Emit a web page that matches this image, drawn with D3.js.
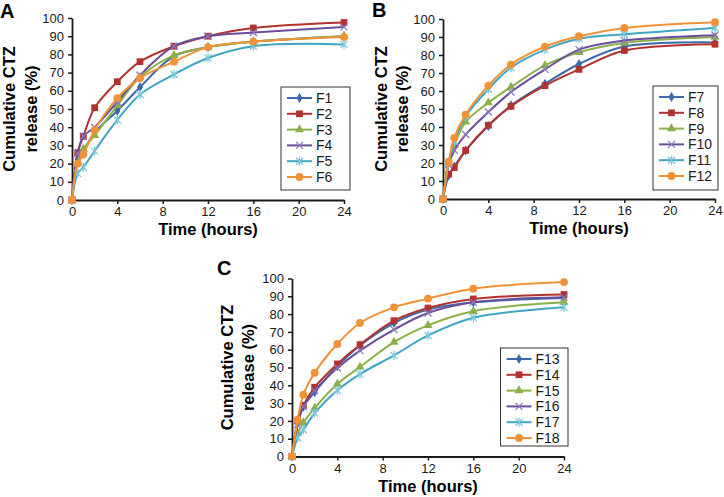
<!DOCTYPE html>
<meta charset="utf-8">
<title>Cumulative CTZ release</title>
<style>
  body { margin: 0; background: #fff; }
  text { font-family: Arial, "Liberation Sans", sans-serif; }
</style>
<body>
<script src="https://cdn.jsdelivr.net/npm/d3@7"></script>
<script>
//==================================================================
// data
var hours = [0, 0.5, 1, 2, 4, 6, 9, 12, 16, 24];
var xTicks = [0, 4, 8, 12, 16, 20, 24];
var yTicks = [0, 10, 20, 30, 40, 50, 60, 70, 80, 90, 100];

var f1  = [0, 22, 27, 37, 49, 62, 79, 84, 87, 90];
var f2  = [0, 26, 35, 50.7, 65, 76, 84.5, 90, 94.5, 97.5];
var f3  = [0, 21, 28, 35.5, 52, 67.5, 79.5, 84, 87, 90];
var f4  = [0, 25.5, 35, 40, 54, 68.5, 84.5, 90, 92, 95];
var f5  = [0, 14.5, 18, 27, 44, 58, 69, 78, 84.5, 85.5];
var f6  = [0, 20, 25, 38.5, 56, 67, 76, 84, 87, 89.5];

var f7  = [0, 13, 18, 27, 40.5, 52, 64, 75, 84.7, 87];
var f8  = [0, 13.8, 17.5, 27, 41, 51.5, 63, 72, 82.5, 86];
var f9  = [0, 20, 30, 42.8, 53.5, 62.2, 74.2, 81.5, 86.7, 90];
var f10 = [0, 19, 27, 35.8, 48.3, 59.4, 72, 83, 88, 91];
var f11 = [0, 20, 32, 46, 61, 73, 83, 89, 91.5, 95];
var f12 = [0, 20.7, 34, 46.9, 63, 74.7, 84.7, 90.4, 95, 98.2];

var f13 = [0, 19, 28, 36.2, 50.7, 62.4, 75, 82.5, 86.6, 89];
var f14 = [0, 20, 28.7, 38.9, 52, 62.8, 76.3, 83.4, 88.5, 91];
var f15 = [0, 13, 19, 27.2, 40.7, 50.3, 64.3, 73.7, 81.6, 86.6];
var f16 = [0, 18, 28, 37, 49.7, 59.5, 71.3, 80.6, 86.6, 89.4];
var f17 = [0, 10.5, 15, 24.4, 37.2, 46.3, 56.8, 68, 78, 83.8];
var f18 = [0, 20.7, 34.7, 47, 63.2, 75, 83.8, 88.7, 94.3, 98];

var namesA = ['F1', 'F2', 'F3', 'F4', 'F5', 'F6'];
var namesB = ['F7', 'F8', 'F9', 'F10', 'F11', 'F12'];
var namesC = ['F13', 'F14', 'F15', 'F16', 'F17', 'F18'];
var valuesA = [f1, f2, f3, f4, f5, f6];
var valuesB = [f7, f8, f9, f10, f11, f12];
var valuesC = [f13, f14, f15, f16, f17, f18];

//==================================================================
var width = 724,
    height = 497;

var color = ['#3b69a9', '#b3312f', '#8bb04a', '#6a4d9a', '#40a5c3', '#f29236'];
var markerKind = ['diamond', 'square', 'triangle', 'cross', 'star', 'circle'];

var svg = d3.select('body').append('svg')
    .attr('width', width)
    .attr('height', height)
    .style('display', 'block');

function marker(sel, kind, col) {
  if (kind == 'cross') {
    sel.append('path').attr('d', 'M-3.5,-3.5L3.5,3.5M-3.5,3.5L3.5,-3.5')
      .style('stroke', '#8a78c0').style('stroke-width', 1.3).style('fill', 'none');
  } else if (kind == 'star') {
    sel.append('path').attr('d', 'M-3.5,-3.5L3.5,3.5M-3.5,3.5L3.5,-3.5M0,-4.5L0,4.5')
      .style('stroke', '#7cc7de').style('stroke-width', 1.3).style('fill', 'none');
  } else {
    var t = {diamond: d3.symbolDiamond, square: d3.symbolSquare,
             triangle: d3.symbolTriangle, circle: d3.symbolCircle}[kind];
    var s = {diamond: 30, square: 46, triangle: 36, circle: 48}[kind];
    sel.append('path').attr('d', d3.symbol(t, s)()).style('fill', col);
  }
}

function drawPanel(p) {
  var x = d3.scaleLinear().domain([0, 24]).range([p.left, p.right]);
  var y = d3.scaleLinear().domain([0, 100]).range([p.bottom, p.top]);
  var g = svg.append('g');

  var ax = g.append('g')
      .attr('transform', 'translate(0,' + p.bottom + ')')
      .call(d3.axisBottom(x).tickValues(xTicks).tickSize(4).tickSizeOuter(0).tickPadding(3));
  var ay = g.append('g')
      .attr('transform', 'translate(' + p.left + ',0)')
      .call(d3.axisLeft(y).tickValues(yTicks).tickSize(4).tickSizeOuter(0).tickPadding(4));
  [ax, ay].forEach(function(a) {
    a.select('.domain').style('stroke', '#1a1a1a').style('stroke-width', 1.8);
    a.selectAll('.tick line').style('stroke', '#1a1a1a').style('stroke-width', 1.5);
    a.selectAll('text').style('font-size', '13px').style('fill', '#1a1a1a')
      .style('font-family', 'Arial, "Liberation Sans", sans-serif');
  });

  var line = d3.line()
      .curve(d3.curveCatmullRom.alpha(0.5))
      .x(function(d, i) { return x(hours[i]); })
      .y(function(d) { return y(d); });

  for (var k = 0; k < p.values.length; k++) {
    g.append('path')
      .attr('d', line(p.values[k]))
      .style('fill', 'none')
      .style('stroke', color[k])
      .style('stroke-width', 2);
    for (var i = 0; i < hours.length; i++) {
      var m = g.append('g').attr('transform', 'translate(' + x(hours[i]) + ',' + y(p.values[k][i]) + ')');
      marker(m, markerKind[k], color[k]);
    }
  }

  // legend
  var lg = g.append('g');
  lg.append('rect')
    .attr('x', p.legend[0]).attr('y', p.legend[1])
    .attr('width', p.legend[2]).attr('height', p.legend[3])
    .style('fill', '#fff').style('stroke', '#333').style('stroke-width', 1);
  for (var k = 0; k < p.names.length; k++) {
    var ly = p.legend[1] + 11 + k * 15.8;
    var lx = p.legend[0] + 6;
    lg.append('line')
      .attr('x1', lx).attr('x2', lx + 25).attr('y1', ly).attr('y2', ly)
      .style('stroke', color[k]).style('stroke-width', 2);
    marker(lg.append('g').attr('transform', 'translate(' + (lx + 12.5) + ',' + ly + ')'), markerKind[k], color[k]);
    lg.append('text')
      .attr('x', lx + 29).attr('y', ly + 5)
      .style('font-size', '14px').style('fill', '#1a1a1a')
      .text(p.names[k]);
  }

  // titles
  g.append('text')
    .attr('x', (p.left + p.right) / 2).attr('y', p.bottom + 35)
    .attr('text-anchor', 'middle')
    .style('font-size', '16.5px').style('font-weight', 'bold')
    .text('Time (hours)');
  var cy = (p.top + p.bottom) / 2;
  g.append('text')
    .attr('transform', 'translate(' + (p.left - p.titleOff[0]) + ',' + cy + ') rotate(-90)')
    .attr('text-anchor', 'middle')
    .style('font-size', '16.5px').style('font-weight', 'bold')
    .text('Cumulative CTZ');
  g.append('text')
    .attr('transform', 'translate(' + (p.left - p.titleOff[1]) + ',' + cy + ') rotate(-90)')
    .attr('text-anchor', 'middle')
    .style('font-size', '16.5px').style('font-weight', 'bold')
    .text('release (%)');
  g.append('text')
    .attr('x', p.letter[0]).attr('y', p.letter[1])
    .style('font-size', '20px').style('font-weight', 'bold')
    .text(p.label);
}

drawPanel({label: 'A', letter: [0, 18], names: namesA, values: valuesA,
           left: 72, right: 344, top: 18, bottom: 200,
           legend: [281, 87, 69, 103], titleOff: [57, 35.5]});
drawPanel({label: 'B', letter: [372, 17], names: namesB, values: valuesB,
           left: 443, right: 715, top: 19, bottom: 199,
           legend: [653, 86, 65, 104], titleOff: [56.5, 35]});
drawPanel({label: 'C', letter: [217, 275], names: namesC, values: valuesC,
           left: 292, right: 564, top: 278.5, bottom: 456.5,
           legend: [500.5, 348, 67.5, 98], titleOff: [59, 38]});
</script>
